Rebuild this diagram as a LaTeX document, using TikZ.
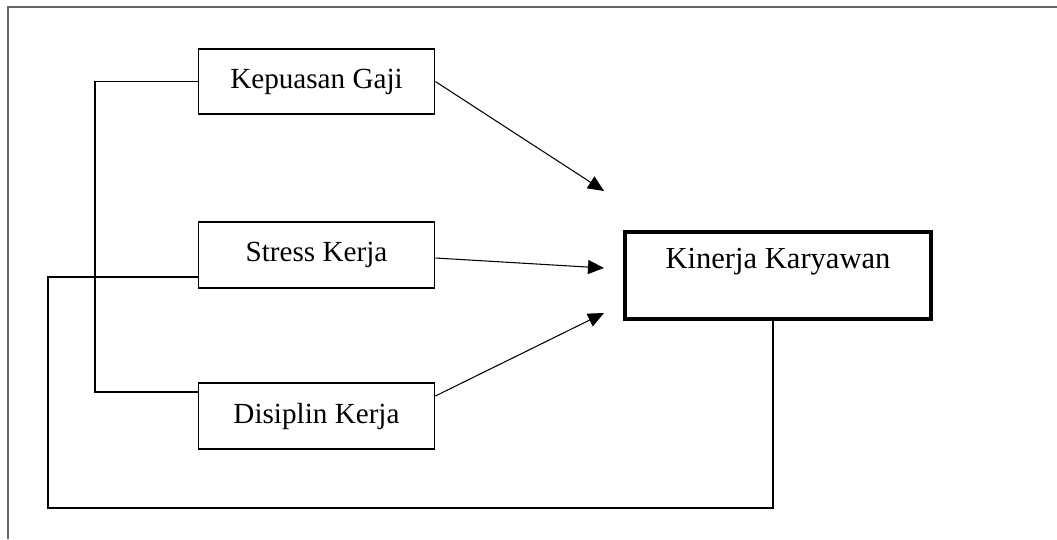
\documentclass[tikz,border=0pt]{standalone}
\usepackage{fontspec}
\setmainfont{Liberation Serif}
\usetikzlibrary{positioning,arrows.meta}
\tikzset{
  varbox/.style={draw,line width=1pt,minimum width=4.72cm,minimum height=1.31cm,inner sep=0pt,
    font=\fontsize{16.6}{20}\selectfont},
  mainbox/.style={draw,line width=2.3pt,minimum width=6.12cm,inner sep=0pt,
    text height=0.72cm,text depth=1.02cm,font=\fontsize{17.4}{21}\selectfont},
  link/.style={line width=0.6pt},
  arr/.style={-{Triangle[length=3.2mm,width=2.8mm]},line width=0.6pt},
  frame/.style={line width=1.1pt,black!60},
}
\begin{document}
\begin{tikzpicture}[x=0.02cm,y=-0.02cm]
  \useasboundingbox (0,0) rectangle (1057,539);
  % open frame (top and left only)
  \draw[frame] (1057,7) -- (8,7) -- (8,539);
  % variables
  \node[varbox] (gaji) at (316.5,81.5) {Kepuasan Gaji};
  \node[varbox] (stress) at (316.5,255) {Stress Kerja};
  \node[varbox] (disiplin) at (316.5,416) {Disiplin Kerja};
  \node[mainbox] (kinerja) at (778,275.5) {Kinerja Karyawan};
  % arrow ends in front of the main box
  \coordinate (t1) at (604,191);
  \coordinate (t2) at (604,268);
  \coordinate (t3) at (604,313);
  \draw[arr] (gaji.east) -- (t1);
  \draw[arr] ([yshift=-0.06cm]stress.east) -- (t2);
  \draw[arr] ([yshift=0.4cm]disiplin.east) -- (t3);
  % bracket joining gaji and disiplin
  \coordinate (gl) at (95,81.5);
  \coordinate (dl) at (95,392);
  \draw[link] (gaji.west) -- (gl) -- (dl) -- (disiplin.west |- dl);
  % feedback line
  \coordinate (fb1) at (48,277);
  \coordinate (fb2) at (48,508);
  \coordinate (fb3) at (773,508);
  \draw[link] (stress.west |- fb1) -- (fb1) -- (fb2) -- (fb3) -- (fb3 |- kinerja.south);
\end{tikzpicture}
\end{document}
